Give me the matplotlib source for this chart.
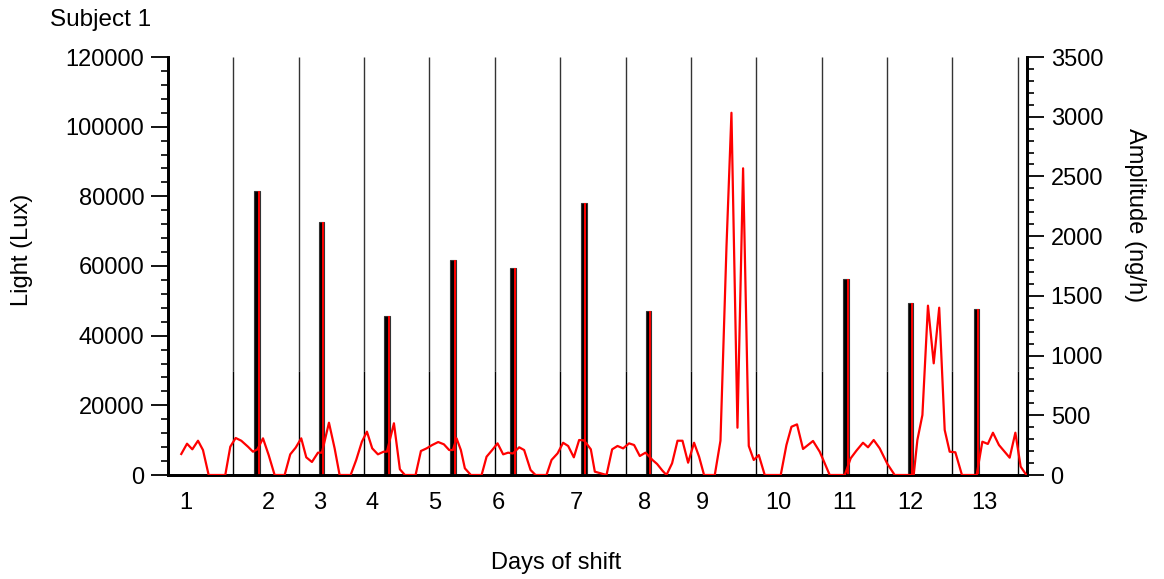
import matplotlib
matplotlib.use("Agg")
import matplotlib.pyplot as plt
from matplotlib.ticker import MultipleLocator
import numpy as np

plt.rcParams['font.family'] = ['Liberation Sans', 'DejaVu Sans']

############## Daten ##############
# Lichtpulse (Lux), Position in Tagen
bar_days = [1.36, 2.35, 3.35, 4.36, 5.28, 6.36, 7.35, 10.37, 11.36, 12.37]
bar_lux = [81600, 72600, 45600, 61700, 59400, 78100, 47100, 56200, 49300, 47600]

# Amplitude (ng/h)
amp_days = [0.203, 0.291, 0.372, 0.459, 0.535, 0.622, 0.876, 0.953, 1.035, 1.121,
            1.223, 1.300, 1.368, 1.453, 1.540, 1.631, 1.784, 1.870, 1.953, 2.038,
            2.115, 2.202, 2.294, 2.355, 2.462, 2.549, 2.625, 2.794, 2.879, 2.966,
            3.043, 3.124, 3.211, 3.298, 3.349, 3.456, 3.547, 3.624, 3.787, 3.869,
            3.956, 4.041, 4.133, 4.220, 4.301, 4.358, 4.414, 4.480, 4.541, 4.633,
            4.797, 4.873, 4.959, 5.041, 5.127, 5.203, 5.275, 5.372, 5.448, 5.546,
            5.622, 5.790, 5.867, 5.959, 6.044, 6.121, 6.208, 6.289, 6.361, 6.399,
            6.468, 6.529, 6.708, 6.794, 6.876, 6.962, 7.053, 7.130, 7.217, 7.304,
            7.411, 7.482, 7.564, 7.625, 7.711, 7.794, 7.870, 7.956, 8.047, 8.124,
            8.200, 8.364, 8.451, 8.543, 8.619, 8.711, 8.797, 8.884, 8.960, 9.037,
            9.128, 9.373, 9.460, 9.537, 9.622, 9.714, 9.867, 9.969, 10.020, 10.122,
            10.352, 10.443, 10.531, 10.631, 10.708, 10.795, 10.887, 11.005, 11.116, 11.407,
            11.463, 11.540, 11.625, 11.713, 11.797, 11.881, 11.957, 12.044, 12.145, 12.370,
            12.457, 12.541, 12.619, 12.711, 12.875, 12.962, 13.043, 13.130]
amp_ng = [176, 262, 215, 287, 209, 0, 0, 237, 310, 287,
          237, 195, 215, 307, 167, 0, 0, 173, 229, 307,
          148, 109, 187, 187, 438, 223, 0, 0, 126, 279,
          363, 223, 173, 195, 195, 433, 48, 0, 0, 201,
          223, 251, 276, 257, 209, 209, 307, 209, 56, 0,
          0, 153, 209, 265, 173, 187, 180, 232, 209, 42,
          0, 0, 126, 181, 270, 243, 148, 293, 290, 265,
          215, 28, 0, 215, 243, 223, 265, 251, 159, 187,
          126, 92, 36, 0, 98, 287, 287, 103, 270, 153,
          0, 0, 287, 1911, 3033, 396, 2568, 243, 126, 167,
          0, 0, 251, 404, 424, 218, 285, 195, 131, 0,
          0, 140, 204, 270, 232, 293, 223, 92, 0, 0,
          293, 502, 1418, 935, 1401, 377, 195, 190, 0, 0,
          279, 260, 354, 251, 145, 354, 70, 0]

day_lines = list(range(1, 14))
xlabel_pos = [0.275, 1.53, 2.32, 3.12, 4.08, 5.05, 6.25, 7.29, 8.18, 9.34, 10.35, 11.36, 12.49]
xlabel_txt = [str(i) for i in range(1, 14)]

############## Darstellung ##############
fig = plt.figure(figsize=(11.64, 5.79), dpi=100)
ax = fig.add_axes([168/1164, 1-475/579, (1027-168)/1164, (475-57)/579])
ax2 = ax.twinx()

ax.set_xlim(0, 13.14)
ax.set_ylim(0, 120000)
ax2.set_ylim(0, 3500)

# Tagesgrenzen
ax.vlines(day_lines, 30000, 120000, color='#333333', lw=1.0, zorder=1)
ax.vlines(day_lines, 0, 30000, color='black', lw=1.0, zorder=1)

ax.bar(bar_days, bar_lux, width=0.085, color='black', edgecolor='#333333', lw=0.8, zorder=2)
ax.vlines(np.array(bar_days) + 0.025, 0, bar_lux, color='red', lw=1.4, zorder=3)

ax2.plot(amp_days, amp_ng, color='red', lw=1.6, zorder=4)

for a in (ax, ax2):
    a.spines['top'].set_visible(False)
    for s in ('left', 'right', 'bottom'):
        a.spines[s].set_linewidth(2)

ax.yaxis.set_major_locator(MultipleLocator(20000))
ax.yaxis.set_minor_locator(MultipleLocator(4000))
ax2.yaxis.set_major_locator(MultipleLocator(500))
ax2.yaxis.set_minor_locator(MultipleLocator(100))
for a in (ax, ax2):
    a.tick_params(axis='y', which='major', length=12, width=1.3, labelsize=17, pad=5)
    a.tick_params(axis='y', which='minor', length=5, width=1.2)

ax.set_xticks(xlabel_pos)
ax.set_xticklabels(xlabel_txt)
ax.tick_params(axis='x', length=0, labelsize=17, pad=12)

fig.text(50/1164, 1-20/579, "Subject 1", fontsize=17.5, va='center', ha='left')
fig.text(22/1164, 1-250/579, "Light (Lux)", fontsize=17, rotation=90, va='center', ha='center')
fig.text(1135/1164, 1-215/579, "Amplitude (ng/h)", fontsize=17, rotation=270, va='center', ha='center')
fig.text(556/1164, 1-563/579, "Days of shift", fontsize=17, va='center', ha='center')

fig.savefig("out.png", dpi=100)
